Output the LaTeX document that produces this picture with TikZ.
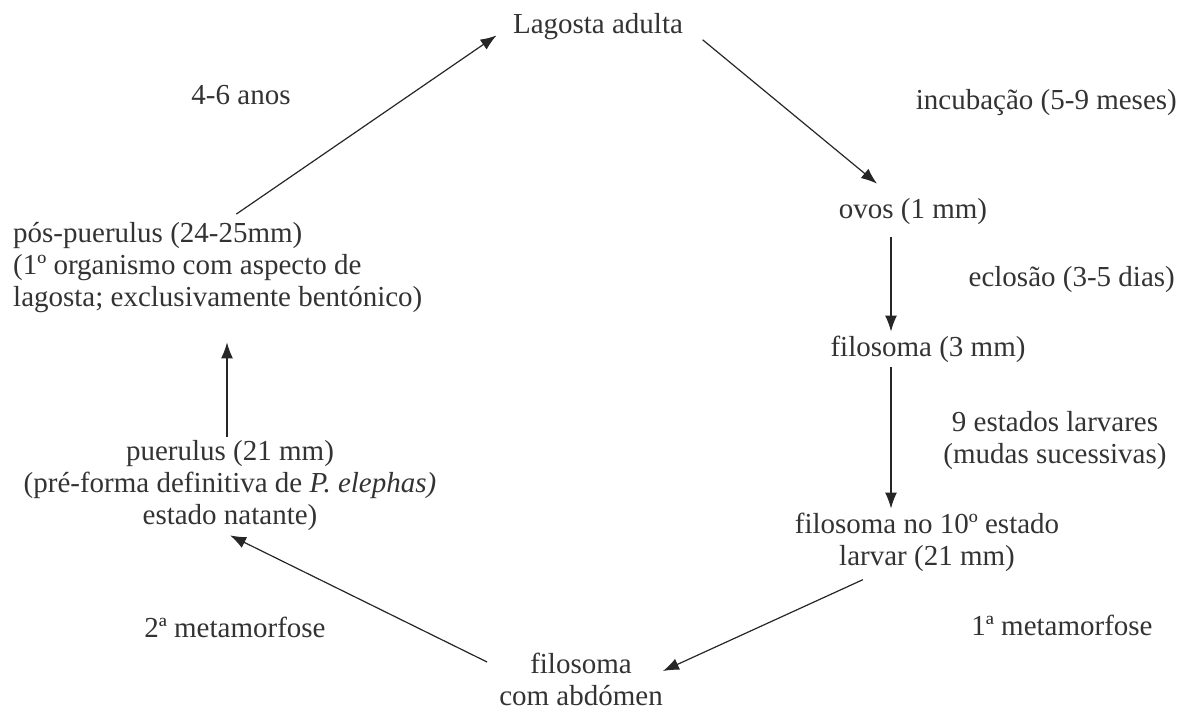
\documentclass[tikz,border=0pt]{standalone}
\usepackage{fontspec}
\setmainfont{Liberation Serif}
\usetikzlibrary{arrows.meta}
\tikzset{
  stage/.style={
    align=center,
    inner sep=4pt,
    text=black!80,
    font=\fontsize{29}{32}\selectfont
    },
  note/.style={
    stage
    },
  arrow/.style={draw=black!85, line width=1.2pt, -{Latex[length=16pt,width=12pt]}},
}

\begin{document}
\begin{tikzpicture}[
    x = 1pt, y = -1pt % pixel grid, y pointing down
  ]
  \useasboundingbox (0,0) rectangle (1191,713);

  % life stages
  \node[stage] (adult) at (598,27) {Lagosta adulta};
  \node[stage] (ovos) at (913,212) {ovos (1 mm)};
  \node[stage] (fil3) at (928,349) {filosoma (3 mm)};
  \node[stage] (fil10) at (927,542) {filosoma no 10º estado\\larvar (21 mm)};
  \node[stage] (filab) at (581,679) {filosoma\\com abdómen};
  \node[stage] (puer) at (230,486) {puerulus (21 mm)\\(pré-forma definitiva de \textit{P. elephas)}\\estado natante)};
  \node[stage, align=left, anchor=west] (pos) at (9,268) {pós-puerulus (24-25mm)\\(1º organismo com aspecto de\\lagosta; exclusivamente bentónico)};

  % transition labels
  \node[note, anchor=east] (incub) at (1181,103) {incubação (5-9 meses)};
  \node[note, anchor=east] (eclos) at (1179,280) {eclosão (3-5 dias)};
  \node[note] (estados) at (1055,441) {9 estados larvares\\(mudas sucessivas)};
  \node[note] (meta1) at (1062,625) {1ª metamorfose};
  \node[note] (meta2) at (235,627) {2ª metamorfose};
  \node[note] (anos) at (241,95) {4-6 anos};

  \draw[arrow, shorten <=8pt, shorten >=15pt] ([xshift=12pt]pos.north) -- (adult.west);
  \draw[arrow, shorten <=20pt] (adult.east) -- ([shift={(-36,-11)}]ovos.north);
  \draw[arrow, shorten <=8pt] ([xshift=-22pt]ovos.south) -- ([xshift=-22pt]ovos.south |- fil3.north);
  \draw[arrow] ([xshift=-22pt]ovos.south |- fil3.south) -- ([xshift=-22pt]ovos.south |- fil10.north);
  \draw[arrow, shorten <=10pt] ([xshift=-55pt]fil10.south) -- ([shift={(-4,-8)}]filab.east);
  \draw[arrow] ([shift={(-8,-17)}]filab.west) -- (puer.south);
  \draw[arrow, shorten >=25pt] ([xshift=-3pt]puer.north) -- ([xshift=-3pt]puer.north |- pos.south);
\end{tikzpicture}
\end{document}
